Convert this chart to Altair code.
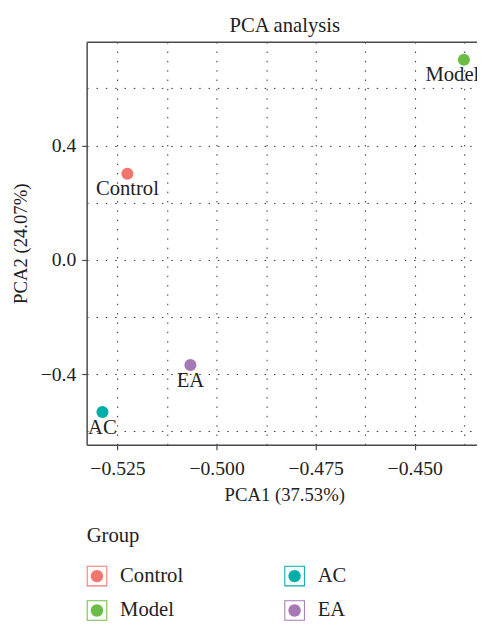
import altair as alt
import pandas as pd

# ---- data ----
groups = ["Control", "Model", "AC", "EA"]
pca1 = [-0.5225, -0.4376, -0.5288, -0.5066]
pca2 = [0.301, 0.700, -0.532, -0.368]
# text labels (repelled inside the panel for "Model")
label_x = [-0.5225, -0.4405, -0.5288, -0.5066]

legend_order = ["Control", "Model", "AC", "EA"]
legend_colors = ["#F3766E", "#6CBD45", "#00AEAA", "#A678B4"]

x_grid_values = [-0.525, -0.5125, -0.5, -0.4875, -0.475, -0.4625, -0.45, -0.4375]
y_grid_values = [-0.6, -0.4, -0.2, 0.0, 0.2, 0.4, 0.6]
x_domain = [-0.53278, -0.43429]
y_domain = [-0.647, 0.763]

df = pd.DataFrame({"Group": groups, "PCA1": pca1, "PCA2": pca2, "LabelX": label_x})

FONT = "Liberation Serif"
FS_TICK = 20
FS_TITLE = 19
FS_BIG = 21
TXT = "#222222"
FRAME = "#4a4a4a"

X_MAJOR = "abs(round(datum.value*40) - datum.value*40) < 0.01"
Y_MAJOR = "abs(round(datum.value*2.5) - datum.value*2.5) < 0.01"

x_axis = alt.Axis(
    orient="bottom",
    values=x_grid_values,
    labelExpr=f"({X_MAJOR}) ? format(datum.value, '.3f') : ''",
    tickOpacity={"condition": {"test": X_MAJOR, "value": 1}, "value": 0},
    grid=True,
    gridDash=[1.5, 8],
    gridColor="#333333",
    gridWidth=1,
    domain=True,
    ticks=True,
    tickSize=5,
    labelPadding=9,
    titlePadding=8,
    titleX=201,
    labelFlush=False,
)
y_axis = alt.Axis(
    orient="left",
    values=y_grid_values,
    labelExpr=f"({Y_MAJOR}) ? format(datum.value, '.1f') : ''",
    tickOpacity={"condition": {"test": Y_MAJOR, "value": 1}, "value": 0},
    grid=True,
    gridDash=[1.5, 8],
    gridColor="#333333",
    gridWidth=1,
    domain=True,
    ticks=True,
    tickSize=5,
    labelPadding=6,
    titlePadding=10,
    labelFlush=False,
)
top_axis = alt.Axis(
    orient="top", labels=False, ticks=False, grid=False, domain=True, title=""
)

# square outline + centered dot, in a -1..1 box
SYMBOL = (
    "M-1,-1H1V1H-1Z"
    "M-0.9,-0.9V0.9H0.9V-0.9Z"
    "M0.6,0A0.6,0.6 0 1,1 -0.6,0A0.6,0.6 0 1,1 0.6,0Z"
)

base = alt.Chart(df)
xs = alt.Scale(domain=x_domain, nice=False, zero=False)
ys = alt.Scale(domain=y_domain, nice=False, zero=False)

points = base.mark_circle(size=150, opacity=1).encode(
    x=alt.X("PCA1:Q", scale=xs, axis=x_axis, title="PCA1 (37.53%)"),
    y=alt.Y("PCA2:Q", scale=ys, axis=y_axis, title="PCA2 (24.07%)"),
    color=alt.Color(
        "Group:N",
        scale=alt.Scale(domain=legend_order, range=legend_colors),
        legend=alt.Legend(
            title="Group",
            orient="none",
            legendX=0,
            legendY=492,
            columns=2,
            symbolType=SYMBOL,
            symbolSize=441,
            symbolStrokeWidth=0,
            symbolOpacity=1,
            labelOffset=13,
            columnPadding=102,
            rowPadding=13,
            titlePadding=20,
        ),
    ),
)

labels = base.mark_text(dy=16, font=FONT, fontSize=FS_BIG, color=TXT, baseline="middle").encode(
    x=alt.X("LabelX:Q", scale=xs, axis=top_axis),
    y=alt.Y("PCA2:Q", scale=ys, axis=y_axis, title="PCA2 (24.07%)"),
    text="Group:N",
)

chart = (
    alt.layer(points, labels)
    .resolve_axis(x="independent")
    .properties(
        width=397,
        height=410,
        autosize=alt.AutoSizeParams(type="none"),
        padding={"left": 80, "top": 29, "right": 0, "bottom": 179},
        title=alt.TitleParams(
            "PCA analysis", font=FONT, fontSize=FS_BIG, fontWeight="normal",
            color=TXT, anchor="middle", offset=6, dx=3,
        ),
    )
    .configure_view(stroke=None)
    .configure_axis(
        labelFont=FONT, titleFont=FONT, labelFontSize=FS_TICK, titleFontSize=FS_TITLE,
        titleFontWeight="normal", labelColor=TXT, titleColor=TXT,
        domainColor=FRAME, domainWidth=1.5, tickColor=FRAME, tickWidth=1.2,
    )
    .configure_legend(
        labelFont=FONT, titleFont=FONT, labelFontSize=FS_BIG, titleFontSize=FS_BIG,
        titleFontWeight="normal", labelColor=TXT, titleColor=TXT,
    )
)

chart.save("out.html", embed_options={"renderer": "svg", "actions": False})
